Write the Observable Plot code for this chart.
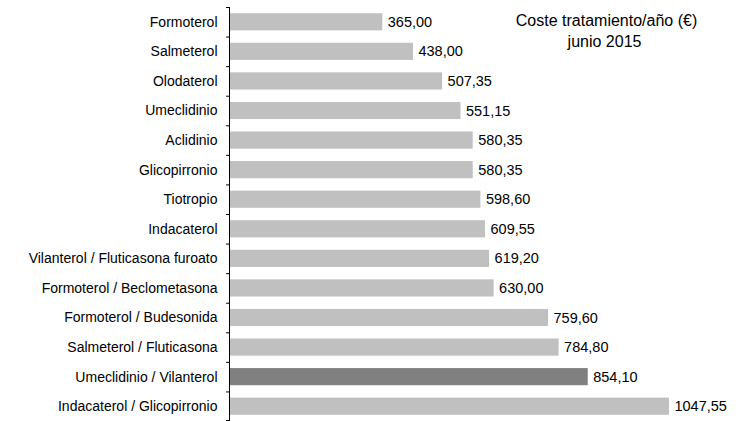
<!DOCTYPE html>
<html><head><meta charset="utf-8">
<script src="https://cdn.jsdelivr.net/npm/d3@7"></script>
<script src="https://cdn.jsdelivr.net/npm/@observablehq/plot@0.6"></script>
<style>body{margin:0;background:#fff;font-family:"Liberation Sans",Arial,sans-serif;}</style>
</head><body><div id="chart"></div>
<script>
const farmacos = ["Formoterol","Salmeterol","Olodaterol","Umeclidinio","Aclidinio","Glicopirronio","Tiotropio","Indacaterol","Vilanterol / Fluticasona furoato","Formoterol / Beclometasona","Formoterol / Budesonida","Salmeterol / Fluticasona","Umeclidinio / Vilanterol","Indacaterol / Glicopirronio"];
const costes = [365.00,438.00,507.35,551.15,580.35,580.35,598.60,609.55,619.20,630.00,759.60,784.80,854.10,1047.55];
const destacado = "Umeclidinio / Vilanterol";
const titulo = ["Coste tratamiento/año (€)", "junio 2015"];

const data = farmacos.map((f,i)=>({f, v: costes[i]}));
const fmt = v => v.toFixed(2).replace(".", ",");
const W = 741, H = 421, mt = 7, mb = 0;
const step = (H - mt - mb) / farmacos.length;

const chart = Plot.plot({
  width: W, height: H,
  marginLeft: 229, marginRight: 8, marginTop: mt, marginBottom: mb,
  style: {fontFamily: "Liberation Sans, Arial, sans-serif", fontSize: "14px", color: "#000", background: "#fff"},
  x: {domain: [0, 1200], axis: null},
  y: {domain: farmacos, paddingInner: 0.42, paddingOuter: 0.21, round: false, axis: null},
  marks: [
    Plot.barX(data, {y: "f", x: "v", fill: d => d.f === destacado ? "#808080" : "#c0c0c0"}),
    Plot.text(data, {y: "f", x: "v", text: d => fmt(d.v), textAnchor: "start", dx: 5, fill: "#000", fontSize: 14.5}),
    Plot.text(data, {y: "f", x: 0, text: "f", textAnchor: "end", dx: -12, fill: "#000", fontSize: 14, letterSpacing: 0.2}),
    Plot.ruleX([0], {stroke: "#000"}),
    Plot.ruleY(farmacos, {y: d => d, x1: -7, x2: 0, dy: -step/2, stroke: "#000"}),
    Plot.ruleY([farmacos[farmacos.length-1]], {y: d => d, x1: -7, x2: 0, dy: step/2 - 1, stroke: "#000"}),
    Plot.text([titulo[0]], {frameAnchor: "top-right", text: d => d, textAnchor: "middle", lineAnchor: "top", dx: -127, dy: 7, fontSize: 16, letterSpacing: 0.4, fill: "#000"}),
    Plot.text([titulo[1]], {frameAnchor: "top-right", text: d => d, textAnchor: "middle", lineAnchor: "top", dx: -129, dy: 28, fontSize: 16, letterSpacing: 0.6, fill: "#000"})
  ]
});
document.getElementById("chart").appendChild(chart);
</script></body></html>
